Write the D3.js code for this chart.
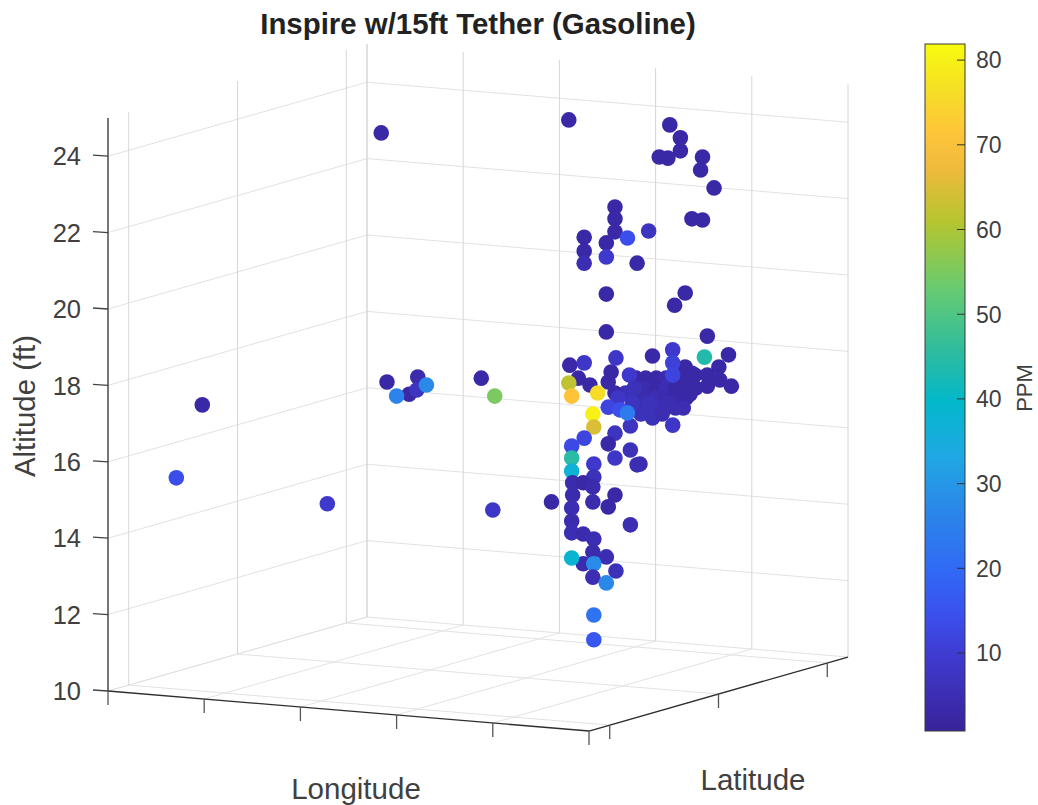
<!DOCTYPE html>
<html>
<head>
<meta charset="utf-8">
<script src="https://cdn.jsdelivr.net/npm/d3@7"></script>
<style>
  html, body { margin: 0; background: #fff; }
  text { font-family: "Liberation Sans", sans-serif; fill: #404040; }
</style>
</head>
<body>
<script>
var title = 'Inspire w/15ft Tether (Gasoline)';
var lonTicks = [0, 1, 2, 3, 4, 5];
var latTicks = [0.08, 0.5, 0.92];
var altTicks = [10, 12, 14, 16, 18, 20, 22, 24];
var altGrid = [10, 12, 14, 16, 18, 20, 22, 24];
var ppmTicks = [10, 20, 30, 40, 50, 60, 70, 80];

// parula, sampled
var parulaStops = ['#38239a', '#3f3bd0', '#3b50ee', '#3168f5', '#2a8ae8', '#1fa8e4',
  '#03b8ca', '#2cbba0', '#64cb73', '#b5c52f', '#f0ba3c', '#fec53a', '#f5e123', '#f9fb0e'];
var parulaPos = [0, 0.11, 0.17, 0.23, 0.33, 0.4, 0.48, 0.55, 0.64, 0.74, 0.82, 0.87, 0.94, 1];

// the lon/lat of each point can't be separated from one view, so x is the
// apparent position along the longitude axis (in tick units), alt is apparent height
var ptX = [
  5.49, 5.59, 5.70, 5.80, 5.90, 6.01,
  5.49, 5.59, 5.70, 5.80, 5.90, 6.01, 6.11,
  5.49, 5.59, 5.70, 5.80, 5.90, 6.01,
  5.49, 5.59, 5.70, 5.80, 5.90,
  5.98, 5.43, 5.66, 5.87, 5.54, 5.76,
  5.38, 5.45, 6.05, 5.62, 5.83,
  6.00, 6.10, 6.23, 6.35, 6.23, 6.48, 6.36, 6.07, 6.45,
  5.27, 5.30, 5.20, 5.32, 5.40, 5.42, 5.47,
  4.89, 5.01, 4.80, 4.95, 5.20, 5.23, 5.28, 5.66, 5.87, 5.87, 5.87, 6.20,
  4.79, 4.82, 5.09, 5.04, 5.05,
  5.27, 4.95, 4.82, 5.20, 5.43, 5.27, 5.50, 5.53, 4.82, 4.82, 5.05,
  5.05, 4.83, 4.94, 5.04, 4.83, 5.04, 5.27, 5.20, 4.61, 4.82, 4.82, 4.82, 4.94, 5.05,
  5.43, 5.04, 5.18, 4.94, 4.82, 5.05, 5.04, 5.28, 5.18, 5.05, 5.05,
  2.84, 4.79, 0.98, 0.71, 2.28, 4.00,
  2.90, 3.22, 3.13, 3.00, 3.21, 3.31, 3.88, 4.02,
  5.84, 5.95, 5.95, 5.82, 5.73, 6.18, 6.16, 6.30, 6.07, 6.18,
  5.27, 5.27, 5.27, 5.62, 4.95, 4.95, 4.95, 5.18, 5.18, 5.50, 5.40,
  5.18, 6.00, 5.89, 5.18, 6.23
];
var ptAlt = [
  18.19, 18.19, 18.19, 18.19, 18.19, 18.19,
  17.93, 17.93, 17.93, 17.93, 17.93, 17.93, 17.93,
  17.67, 17.67, 17.67, 17.67, 17.67, 17.67,
  17.41, 17.41, 17.41, 17.41, 17.41,
  17.41, 16.94, 17.15, 16.96, 17.25, 17.25,
  17.80, 17.54, 17.77, 17.54, 17.54,
  18.48, 18.27, 18.27, 18.48, 17.98, 17.98, 18.14, 18.32, 18.80,
  17.80, 17.67, 17.43, 17.36, 17.28, 18.27, 17.93,
  18.19, 18.01, 18.53, 18.59, 18.09, 18.35, 18.72, 18.77, 18.93, 18.59, 18.27, 18.74,
  18.06, 17.72, 17.80, 17.25, 16.91,
  16.75, 16.62, 16.41, 16.47, 16.31, 16.10, 15.92, 15.94, 16.10, 15.76, 15.94,
  15.60, 15.45, 15.45, 15.34, 15.13, 14.95, 15.13, 14.82, 14.95, 14.79, 14.45, 14.14, 14.11, 13.98,
  14.35, 13.64, 13.51, 13.33, 13.48, 13.33, 12.98, 13.14, 12.83, 11.99, 11.34,
  24.61, 24.95, 17.49, 15.58, 14.90, 14.74,
  18.09, 18.22, 17.77, 17.72, 17.88, 18.01, 18.19, 17.72,
  24.82, 24.48, 24.14, 23.95, 23.98, 23.98, 23.64, 23.17, 22.36, 22.33,
  22.67, 22.36, 22.02, 22.04, 21.88, 21.52, 21.20, 21.73, 21.36, 21.20, 21.86,
  20.39, 20.42, 20.10, 19.40, 19.29
];
var ptPpm = [
  3, 3, 3, 4, 3, 3,
  4, 4, 3, 5, 3, 3, 3,
  5, 4, 5, 4, 3, 3,
  6, 5, 6, 5, 4,
  5, 7, 6, 8, 6, 5,
  6, 7, 3, 6, 5,
  3, 3, 3, 3, 3, 3, 3, 3, 3,
  3, 8, 12, 14, 24, 9, 6,
  3, 3, 3, 8, 3, 3, 8, 3, 9, 11, 12, 44,
  62, 71, 76, 80, 65,
  7, 12, 13, 3, 6, 8, 5, 5, 45, 37, 9,
  6, 4, 3, 4, 4, 4, 3, 3, 3, 5, 4, 5, 4, 5,
  5, 4, 5, 4, 38, 28, 5, 6, 27, 22, 16,
  3, 3, 3, 14, 9, 8,
  3, 4, 3, 26, 7, 27, 3, 55,
  3, 3, 3, 3, 3, 3, 3, 3, 3, 3,
  3, 3, 3, 7, 3, 3, 5, 3, 9, 3, 14,
  3, 3, 3, 3, 3
];

var width = 1038, height = 805;

var svg = d3.select('body').append('svg')
  .attr('width', width)
  .attr('height', height)
  .style('display', 'block');

var lonScale = d3.scaleLinear().domain([0, 5]).range([108, 589]);
var altScale = d3.scaleLinear().domain([10, 25]).range([691, 118]);
var latScale = d3.scaleLinear().domain([0, 1]).range([0, 259]);
var ppmScale = d3.scaleLinear().domain([0.8, 81.9]).range([731, 44]);
var lonDrop = d3.scaleLinear().domain([0, 5]).range([0, 40]);
var latRise = d3.scaleLinear().domain([0, 1]).range([0, 74]);

var color = d3.scaleLinear()
  .domain(parulaPos.map(p => 0.8 + p * 81.1))
  .range(parulaStops);

// orthographic view of the box, all grid and axis lines go through this
function project(lon, lat, alt) {
  return [
    lonScale(lon) + latScale(lat),
    altScale(alt) + lonDrop(lon) - latRise(lat)
  ];
}

function segment(group, a, b, stroke, w) {
  group.append('line')
    .attr('x1', a[0]).attr('y1', a[1])
    .attr('x2', b[0]).attr('y2', b[1])
    .attr('stroke', stroke)
    .attr('stroke-width', w);
}

var grid = svg.append('g').attr('class', 'grid');
var gridColor = '#e2e2e2', edgeColor = '#d6d6d6';

// floor
lonTicks.forEach(function (lon) {
  segment(grid, project(lon, 0, 10), project(lon, 1, 10), gridColor, 1);
});
latTicks.forEach(function (lat) {
  segment(grid, project(0, lat, 10), project(5, lat, 10), gridColor, 1);
});
// walls
altGrid.forEach(function (alt) {
  segment(grid, project(0, 0, alt), project(0, 1, alt), gridColor, 1);
  segment(grid, project(0, 1, alt), project(5, 1, alt), gridColor, 1);
});
latTicks.concat([1]).forEach(function (lat) {
  segment(grid, project(0, lat, 10), project(0, lat, 25), edgeColor, 1);
});
lonTicks.forEach(function (lon) {
  segment(grid, project(lon, 1, 10), project(lon, 1, 25), edgeColor, 1);
});

// axes
var axes = svg.append('g').attr('class', 'axes');
var axisColor = '#2e2e2e';
segment(axes, project(0, 0, 10), project(0, 0, 25), axisColor, 1.3);
segment(axes, project(0, 0, 10), project(5, 0, 10), axisColor, 1.3);
segment(axes, project(5, 0, 10), project(5, 1, 10), axisColor, 1.3);

lonTicks.forEach(function (lon) {
  var p = project(lon, 0, 10);
  segment(axes, p, [p[0], p[1] + 14], '#555', 1.3);
});
latTicks.forEach(function (lat) {
  var p = project(5, lat, 10);
  segment(axes, p, [p[0], p[1] + 14], '#555', 1.3);
});
altTicks.forEach(function (alt) {
  var p = project(0, 0, alt);
  segment(axes, p, [p[0] - 15, p[1] - 1], '#444', 1.3);
  axes.append('text')
    .attr('x', p[0] - 27)
    .attr('y', p[1])
    .attr('dy', '0.36em')
    .attr('text-anchor', 'end')
    .attr('font-size', 25.5)
    .text(alt);
});

// points
svg.append('g').attr('class', 'points')
  .selectAll('circle')
  .data(ptX)
  .join('circle')
  .attr('cx', d => lonScale(d))
  .attr('cy', (d, i) => altScale(ptAlt[i]))
  .attr('r', 7.8)
  .attr('fill', (d, i) => color(ptPpm[i]));

// titles
svg.append('text')
  .attr('x', 478).attr('y', 34)
  .attr('text-anchor', 'middle')
  .attr('font-size', 29.4)
  .attr('font-weight', 'bold')
  .style('fill', '#222')
  .text(title);

svg.append('text')
  .attr('x', 356).attr('y', 799)
  .attr('text-anchor', 'middle')
  .attr('font-size', 29.5)
  .text('Longitude');

svg.append('text')
  .attr('x', 753).attr('y', 790)
  .attr('text-anchor', 'middle')
  .attr('font-size', 29.5)
  .text('Latitude');

svg.append('text')
  .attr('transform', 'translate(35,406) rotate(-90)')
  .attr('text-anchor', 'middle')
  .attr('font-size', 29.4)
  .text('Altitude (ft)');

// colorbar
var grad = svg.append('defs').append('linearGradient')
  .attr('id', 'parula')
  .attr('x1', 0).attr('y1', 1)
  .attr('x2', 0).attr('y2', 0);
grad.selectAll('stop')
  .data(parulaPos)
  .join('stop')
  .attr('offset', d => d)
  .attr('stop-color', (d, i) => parulaStops[i]);

var cbar = svg.append('g').attr('class', 'colorbar');
cbar.append('rect')
  .attr('x', 925).attr('y', ppmScale.range()[1])
  .attr('width', 40)
  .attr('height', ppmScale.range()[0] - ppmScale.range()[1])
  .attr('fill', 'url(#parula)')
  .attr('stroke', '#3a3a3a')
  .attr('stroke-width', 1);

ppmTicks.forEach(function (v) {
  var y = ppmScale(v);
  segment(cbar, [957, y], [965, y], '#333', 1);
  cbar.append('text')
    .attr('x', 976)
    .attr('y', y)
    .attr('dy', '0.36em')
    .attr('font-size', 23)
    .text(v);
});

cbar.append('text')
  .attr('transform', 'translate(1032,388) rotate(-90)')
  .attr('text-anchor', 'middle')
  .attr('font-size', 22)
  .text('PPM');
</script>
</body>
</html>
